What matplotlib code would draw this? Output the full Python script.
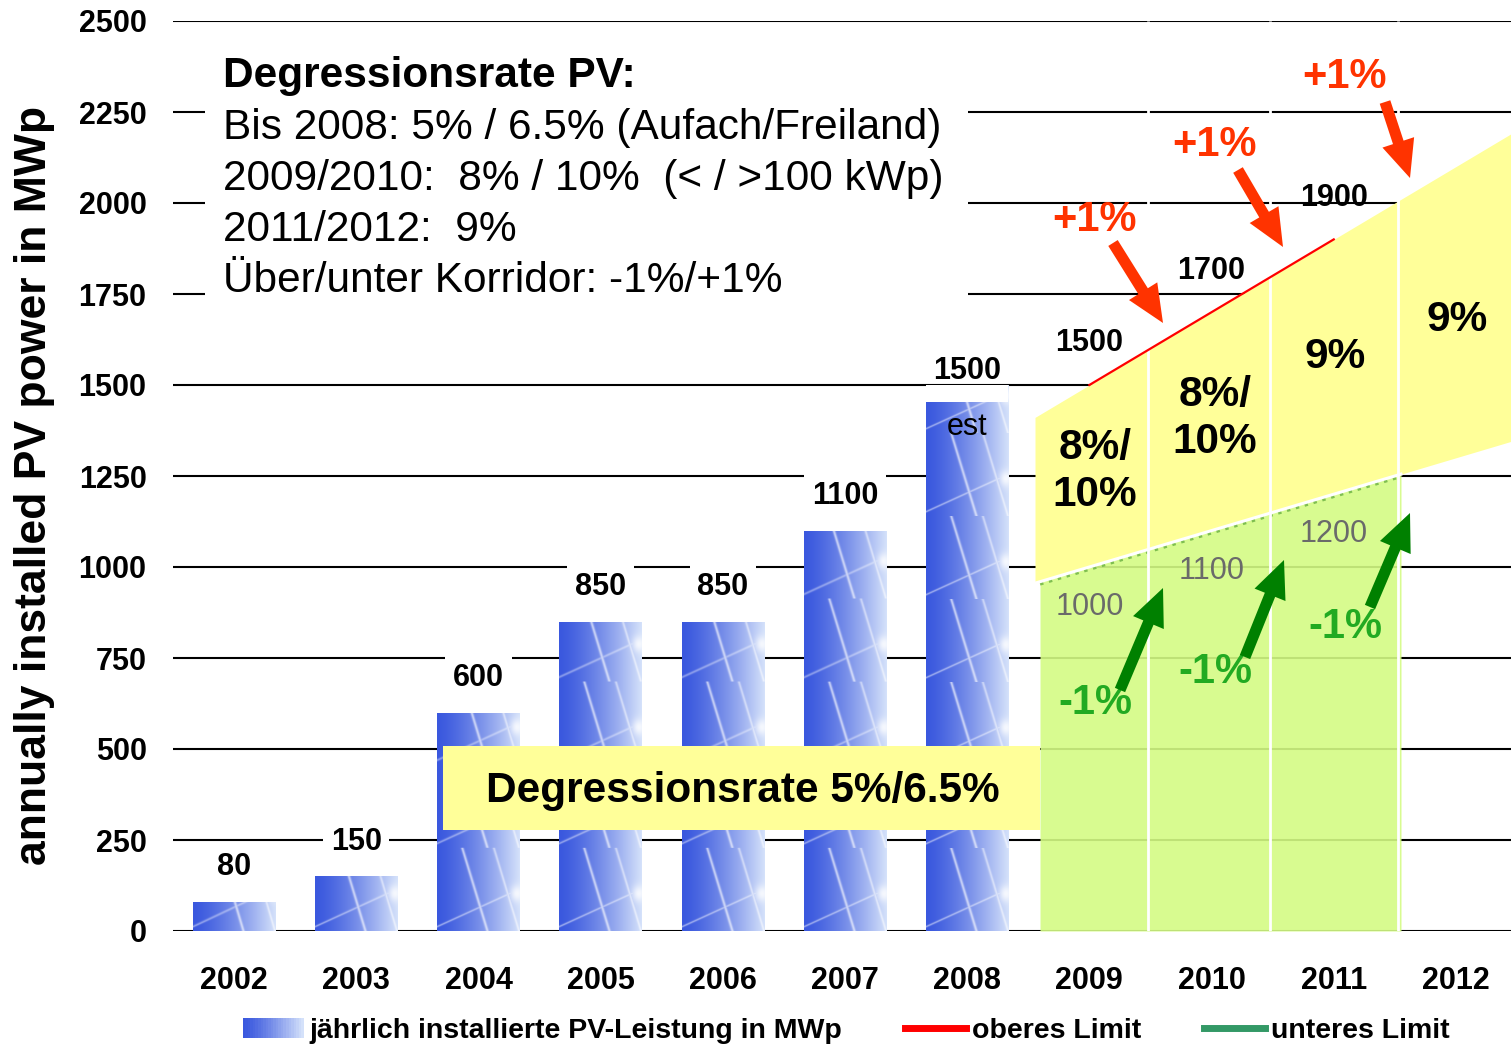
import numpy as np
import matplotlib
matplotlib.use("Agg")
import matplotlib.pyplot as plt
from matplotlib.patches import Rectangle
from matplotlib.lines import Line2D
from matplotlib.legend_handler import HandlerBase

plt.rcParams['font.family'] = ['Liberation Sans', 'DejaVu Sans']

# ---------------- data ----------------
years = ['2002', '2003', '2004', '2005', '2006', '2007', '2008', '2009', '2010', '2011', '2012']
bar_years = ['2002', '2003', '2004', '2005', '2006', '2007', '2008']
bar_values = [80, 150, 600, 850, 850, 1100, 1500]
bar_labels = ['80', '150', '600', '850', '850', '1100', '1500']
corridor_years = ['2009', '2010', '2011', '2012']
corridor_upper = [1500, 1700, 1900, 2100]
corridor_lower = [1000, 1100, 1200, 1300]
upper_limit_years = ['2009', '2010', '2011']
upper_limit = [1500, 1700, 1900]
lower_limit_years = ['2009', '2010', '2011']
lower_limit = [1000, 1100, 1200]
rate_labels = ['8%/\n10%', '8%/\n10%', '9%', '9%']
yticks = [0, 250, 500, 750, 1000, 1250, 1500, 1750, 2000, 2250, 2500]
info_title = 'Degressionsrate PV:'
info_lines = ['Bis 2008: 5% / 6.5% (Aufach/Freiland)',
              '2009/2010:  8% / 10%  (< / >100 kWp)',
              '2011/2012:  9%',
              'Über/unter Korridor: -1%/+1%']

# ---------------- figure ----------------
W, H = 1511, 1047
fig = plt.figure(figsize=(W / 100, H / 100), dpi=100)
AX_L, AX_R, AX_T, AX_B = 173, 1517, 21, 931
ax = fig.add_axes([AX_L / W, (H - AX_B) / H, (AX_R - AX_L) / W, (AX_B - AX_T) / H])
XMIN, XMAX, YMIN, YMAX = -0.5, 10.5, 0, 2500
ax.set_xlim(XMIN, XMAX)
ax.set_ylim(YMIN, YMAX)

def dx(px):
    return XMIN + (px - AX_L) / (AX_R - AX_L) * (XMAX - XMIN)

def dy(py):
    return YMIN + (AX_B - py) / (AX_B - AX_T) * (YMAX - YMIN)

idx = {y: i for i, y in enumerate(years)}

for s in ax.spines.values():
    s.set_visible(False)
ax.set_yticks(yticks)
ax.set_yticklabels([str(v) for v in yticks], fontsize=22, fontweight='bold')
ax.set_xticks(range(len(years)))
ax.set_xticklabels(years, fontsize=22, fontweight='bold')
ax.tick_params(axis='both', length=0)
ax.tick_params(axis='y', pad=19)
ax.tick_params(axis='x', pad=25.5)
ax.yaxis.grid(True, color='black', lw=1.5)
ax.set_axisbelow(True)

# ---------------- bars with solar-panel texture ----------------
def make_tile(h=83, w=82):
    u = np.linspace(0, 1, w)[None, :]
    v = np.linspace(0, 1, h)[:, None]
    left = np.array([58, 88, 222]) / 255.0
    right = np.array([212, 225, 250]) / 255.0
    t = (u ** 1.35) * np.ones_like(v)
    img = left[None, None, :] + (right - left)[None, None, :] * t[..., None]
    cols = np.arange(w)[None, :] * np.ones((h, 1))
    rows = np.arange(h)[:, None] * np.ones((1, w))
    c1 = (0.30 + 0.30 * v) * w
    c2 = (0.68 + 0.30 * v) * w
    r2 = (0.94 - 0.45 * u) * h
    m = np.zeros((h, w))
    m = np.maximum(m, 0.7 * np.exp(-((cols - c1) / 1.3) ** 2))
    m = np.maximum(m, 0.55 * np.exp(-((cols - c2) / 1.2) ** 2))
    m = np.maximum(m, 0.45 * np.exp(-((rows - r2) / 1.1) ** 2))
    glow = 0.8 * np.exp(-(((u - 0.97) / 0.08) ** 2 + ((v - 0.55) / 0.1) ** 2))
    m = np.maximum(m, glow)
    img = img * (1 - m[..., None]) + m[..., None]
    return np.clip(img, 0, 1)

tile = make_tile()
tile_units = dy(AX_B - 83) - dy(AX_B)
bar_x = [idx[y] for y in bar_years]
bars = ax.bar(bar_x, bar_values, width=0.675, color='#6688e0', linewidth=0, zorder=2)
for b in bars:
    x0, w, h = b.get_x(), b.get_width(), b.get_height()
    n = int(np.ceil(h / tile_units))
    img = np.concatenate([tile] * n, axis=0)
    im = ax.imshow(img, extent=[x0, x0 + w, 0, n * tile_units], origin='upper',
                   aspect='auto', zorder=2.1, interpolation='bilinear')
    im.set_clip_path(b)
ax.set_xlim(XMIN, XMAX)
ax.set_ylim(YMIN, YMAX)

for i, (xv, v, lab) in enumerate(zip(bar_x, bar_values, bar_labels)):
    if i == len(bar_values) - 1:
        b = bars[i]
        ax.add_patch(Rectangle((b.get_x(), dy(402)), b.get_width(), v - dy(402) + 1,
                               facecolor='white', edgecolor='none', zorder=2.5))
        ax.annotate(lab, (xv, v), xytext=(0, 10), textcoords='offset points', ha='center',
                    va='center', fontsize=22, fontweight='bold', zorder=4)
        ax.annotate('est', (xv, v), xytext=(0, -30), textcoords='offset points', ha='center',
                    va='center', fontsize=22, zorder=4)
    else:
        ax.annotate(lab, (xv, v), xytext=(0, 25), textcoords='offset points', ha='center',
                    va='center', fontsize=22, fontweight='bold', zorder=4,
                    bbox=dict(boxstyle='square,pad=0.25', fc='white', ec='none'))

# ---------------- corridor ----------------
cx = np.array([idx[y] for y in corridor_years], dtype=float)

def extend(xq, xs, ys):
    xs = np.asarray(xs, float); ys = np.asarray(ys, float)
    out = np.interp(xq, xs, ys)
    sl = (ys[1] - ys[0]) / (xs[1] - xs[0])
    sr = (ys[-1] - ys[-2]) / (xs[-1] - xs[-2])
    out = np.where(xq < xs[0], ys[0] + (xq - xs[0]) * sl, out)
    out = np.where(xq > xs[-1], ys[-1] + (xq - xs[-1]) * sr, out)
    return out

xy = np.linspace(dx(1035), XMAX, 300)
ax.fill_between(xy, extend(xy, cx, corridor_lower), extend(xy, cx, corridor_upper),
                color='#ffff99', lw=0, zorder=1.2)
xg = np.linspace(dx(1040), dx(1401), 300)
ax.fill_between(xg, 0, extend(xg, cx, corridor_lower), color='#d4fb84', alpha=0.9,
                lw=0, zorder=1.1)
ax.plot(xg, extend(xg, cx, corridor_lower) - 6, color='#7fbf50', lw=2.5, ls=':', zorder=1.15)
xw = np.linspace(dx(1035), dx(1401), 50)
ax.plot(xw, extend(xw, cx, corridor_lower), color='white', lw=2.2, zorder=1.3)
ax.vlines([dx(1148), dx(1270), dx(1398)], 0, YMAX, color='white', lw=2, zorder=1.5)

ux = [idx[y] for y in upper_limit_years]
lx = [idx[y] for y in lower_limit_years]
ax.plot(ux, upper_limit, color='red', lw=1.6, zorder=1.6)

for xv, v in zip(ux, upper_limit):
    ax.annotate(str(v), (xv, v), xytext=(0, 30), textcoords='offset points', ha='center',
                va='center', fontsize=22, fontweight='bold', zorder=4)
for xv, v in zip(lx, lower_limit):
    ax.annotate(str(v), (xv, v), xytext=(0, -29), textcoords='offset points', ha='center',
                va='center', fontsize=22, color='#6a6a6a', zorder=4)

rate_pos = [(1095, 471.5), (1215, 418.5), (1335, 357), (1457, 320)]
for lab, (px, py) in zip(rate_labels, rate_pos):
    ax.text(dx(px), dy(py), lab, ha='center', va='center', fontsize=30.5,
            fontweight='bold', linespacing=1.2, zorder=4)

# +1% / -1% annotations
red_c = '#ff3300'
green_arrow = '#008000'
green_txt = '#22aa22'
plus_pos = [(1095, 220), (1215, 145), (1345, 77)]
red_arrows = [((1113, 243), (1163, 323)), ((1238, 170), (1283, 247)), ((1385, 102), (1410, 178))]
minus_pos = [(1095, 703), (1215, 672), (1345, 627)]
green_arrows = [((1120, 690), (1163, 588)), ((1245, 657), (1284, 560)), ((1370, 607), (1410, 513))]
for (px, py) in plus_pos:
    ax.text(dx(px), dy(py), '+1%', ha='center', va='center', fontsize=30,
            fontweight='bold', color=red_c, zorder=5)
for (t, h) in red_arrows:
    ax.annotate('', xy=(dx(h[0]), dy(h[1])), xytext=(dx(t[0]), dy(t[1])),
                arrowprops=dict(facecolor=red_c, edgecolor='none', width=8, headwidth=24,
                                headlength=27, shrink=0), zorder=5)
for (px, py) in minus_pos:
    ax.text(dx(px), dy(py), '-1%', ha='center', va='center', fontsize=30,
            fontweight='bold', color=green_txt, zorder=5)
for (t, h) in green_arrows:
    ax.annotate('', xy=(dx(h[0]), dy(h[1])), xytext=(dx(t[0]), dy(t[1])),
                arrowprops=dict(facecolor=green_arrow, edgecolor='none', width=8, headwidth=24,
                                headlength=27, shrink=0), zorder=5)

# ---------------- info text box ----------------
ax.add_patch(Rectangle((dx(205), dy(305)), dx(968) - dx(205), dy(35) - dy(305),
                       facecolor='white', edgecolor='none', zorder=1))
ax.text(dx(223), dy(87), info_title, ha='left', va='baseline', fontsize=30.5,
        fontweight='bold', zorder=4)
for line, by in zip(info_lines, [139, 190, 241, 292]):
    ax.text(dx(223), dy(by), line, ha='left', va='baseline', fontsize=30.5, zorder=4)

# yellow label box
ax.add_patch(Rectangle((dx(443), dy(830)), dx(1040) - dx(443), dy(746) - dy(830),
                       facecolor='#ffff99', edgecolor='none', zorder=3))
ax.text(dx(743), dy(791), 'Degressionsrate 5%/6.5%', ha='center', va='center',
        fontsize=30.5, fontweight='bold', zorder=4)

# ---------------- y label ----------------
fig.text(35 / W, (H - 485) / H, 'annually installed PV power in MWp', rotation=90,
         ha='center', va='center', fontsize=32, fontweight='bold')

# ---------------- legend ----------------
class GradHandler(HandlerBase):
    def create_artists(self, legend, orig_handle, xdescent, ydescent, width, height,
                       fontsize, trans):
        n = 24
        left = np.array([58, 88, 222]) / 255.0
        right = np.array([212, 225, 250]) / 255.0
        arts = []
        for k in range(n):
            t = (k / (n - 1)) ** 1.25
            c = left + (right - left) * t
            r = Rectangle((-xdescent + k * width / n, -ydescent), width / n + 0.3, height,
                          facecolor=c, edgecolor='none', transform=trans)
            arts.append(r)
        return arts

grad_handle = Rectangle((0, 0), 1, 1)
h_red = Line2D([], [], color='red', lw=5)
h_green = Line2D([], [], color='#339966', lw=5)
fig.legend([grad_handle, h_red, h_green],
           ['jährlich installierte PV-Leistung in MWp', 'oberes Limit', 'unteres Limit'],
           handler_map={Rectangle: GradHandler()},
           loc='center', bbox_to_anchor=(846 / W, (H - 1031) / H), ncol=3, frameon=False,
           prop={'size': 20.5, 'weight': 'bold'}, handlelength=2.15, handletextpad=0.2,
           columnspacing=2.2, handleheight=0.7)

fig.savefig('out.png', dpi=100)
